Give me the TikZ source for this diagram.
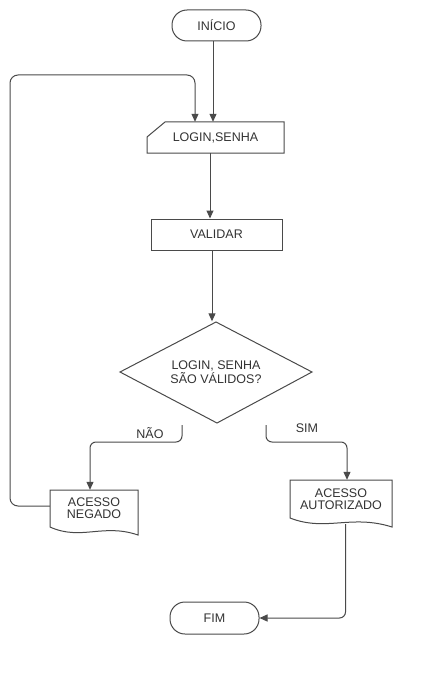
\documentclass[tikz,border=0pt]{standalone}
\usepackage{fontspec}
\setmainfont{Liberation Sans}
\usetikzlibrary{arrows.meta,calc}
\definecolor{linec}{HTML}{4A4A4A}
\definecolor{textc}{HTML}{333333}
\begin{document}
\begin{tikzpicture}[x=1pt,y=-1pt,
  every node/.style={font=\fontsize{12.5}{12}\selectfont, text=textc, align=center, inner sep=0pt},
  shp/.style={draw=linec, line width=1pt},
  term/.style={shp, rounded corners=15pt, minimum width=89pt, minimum height=31pt},
  procbox/.style={shp, minimum width=131pt, minimum height=31pt},
  anchorbox/.style={draw=none},
  arr/.style={draw=linec, line width=1pt, -{Triangle[length=8pt,width=7pt]}},
  lbl/.style={}
]
\useasboundingbox[fill=white] (0,0) rectangle (434,674);

% shapes
\node[term] (inicio) at (216.5,25.5) {INÍCIO};

\draw[shp] (165,122) -- (284,122) -- (284,153) -- (147,153) -- (147,137) -- cycle;
\node[anchorbox, minimum width=137pt, minimum height=31pt] (login) at (215.5,137.5) {LOGIN,SENHA};

\node[procbox] (validar) at (216.5,234.5) {VALIDAR};

\draw[shp] (216,322) -- (312,372) -- (217,423) -- (120,372) -- cycle;
\node[anchorbox, minimum width=192pt, minimum height=101pt] (decisao) at (216,372) {LOGIN, SENHA\\SÃO VÁLIDOS?};

\draw[shp] (50,490) -- (138,490) -- (138,535) .. controls (103,523) and (81,541) .. (50,527) -- cycle;
\node[anchorbox, minimum width=88pt, minimum height=37pt] (negado) at (94,508.5) {ACESSO\\NEGADO};

\draw[shp] (290,480) -- (392,480) -- (392,527) .. controls (351,514) and (326,532) .. (290,518) -- cycle;
\node[anchorbox, minimum width=102pt, minimum height=38pt] (autorizado) at (341,499) {ACESSO\\AUTORIZADO};

\node[term, minimum height=32pt] (fim) at (214.5,618) {FIM};

% labels
\node[lbl] (nao) at (150,433) {NÃO};
\node[lbl] (sim) at (307,428) {SIM};

% helper coordinates
\coordinate (loopL) at (10,75);
\coordinate (naoS) at (182,425);
\coordinate (naoK) at (130,442);
\coordinate (simS) at (266,425);
\coordinate (simK) at (300,442);

% connectors
\draw[arr] ([xshift=-3.5pt]inicio.south) -- ([xshift=-2.5pt]login.north);
\draw[arr, rounded corners=8pt] ([yshift=2.5pt]negado.west) -| (loopL) -| ([xshift=-20.5pt]login.north);
\draw[arr] ([xshift=-5.5pt]login.south) -- ([xshift=-6.5pt]validar.north);
\draw[arr] ([xshift=-4.5pt]validar.south) -- ([xshift=-4pt]decisao.north);
\draw[arr, rounded corners=6pt] (naoS) |- (naoK) -| ([xshift=-4pt]negado.north);
\draw[arr, rounded corners=6pt] (simS) |- (simK) -| ([xshift=6pt]autorizado.north);
\draw[arr, rounded corners=6pt] ([xshift=4.5pt,yshift=-6pt]autorizado.south) |- (fim.east);
\end{tikzpicture}
\end{document}
